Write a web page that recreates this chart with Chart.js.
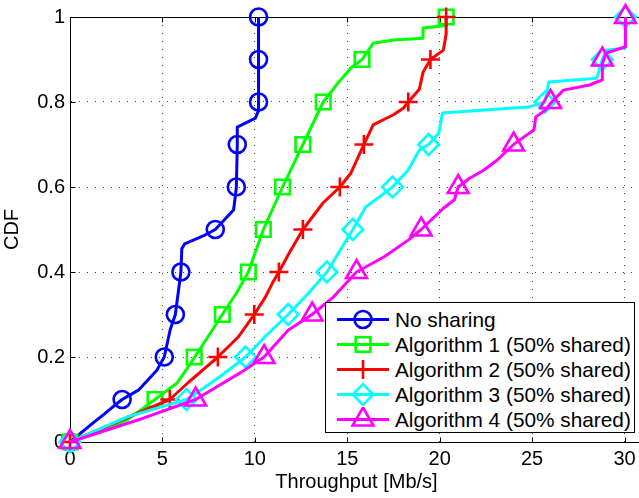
<!DOCTYPE html>
<html>
<head>
<meta charset="utf-8">
<script src="https://cdn.jsdelivr.net/npm/chart.js@4.4.1/dist/chart.umd.min.js"></script>
<style>
  html, body { margin: 0; padding: 0; background: #fff; overflow: hidden; }
  #marco { position: relative; width: 639px; height: 498px; overflow: hidden; }
  #grafico { position: absolute; left: 0; top: 0; }
  #leyenda {
    position: absolute; left: 325px; top: 302px; width: 308px; height: 129px;
    border: 1px solid #000; background: #fff;
    font-family: "Liberation Sans", Arial, sans-serif; font-size: 20.8px; color: #000;
  }
  .fila { position: absolute; left: 0; height: 25px; line-height: 25px; white-space: nowrap; }
  .fila svg { position: absolute; left: 11px; top: 0; }
  .fila span { position: absolute; left: 69px; top: 0; }
</style>
</head>
<body>
<div id="marco">
  <canvas id="grafico" width="660" height="498"></canvas>
  <div id="leyenda"></div>
</div>
<script>
// niveles de la CDF donde van los marcadores
const cdfLevels = [0, 0.1, 0.2, 0.3, 0.4, 0.5, 0.6, 0.7, 0.8, 0.9, 1];
const xTicks = [0, 5, 10, 15, 20, 25, 30];
const yTicks = [0, 0.2, 0.4, 0.6, 0.8, 1];

const seriesNames = ['No sharing', 'Algorithm 1 (50% shared)', 'Algorithm 2 (50% shared)',
  'Algorithm 3 (50% shared)', 'Algorithm 4 (50% shared)'];
const seriesColors = ['#0000ff', '#00ff00', '#ff0000', '#00ffff', '#ff00ff'];
const seriesMarkers = ['circle', 'rect', 'cross', 'rectRot', 'triangle'];

// throughput en cada nivel de cdfLevels
const noSharingMarks = [0, 2.82, 5.1, 5.7, 6.0, 7.86, 9.0, 9.05, 10.2, 10.2, 10.2];
const alg1Marks = [0, 4.6, 6.72, 8.24, 9.65, 10.46, 11.5, 12.6, 13.7, 15.8, 20.35];
const alg2Marks = [0, 5.4, 8.0, 9.97, 11.3, 12.6, 14.6, 15.9, 18.3, 19.5, 20.35];
const alg3Marks = [0, 6.3, 9.5, 11.8, 13.9, 15.3, 17.45, 19.4, 25.7, 28.8, 30.05];
const alg4Marks = [0, 6.8, 10.5, 13.1, 15.5, 19.0, 21.0, 24.0, 26.0, 28.8, 30.05];

// curvas completas (x = throughput, y = CDF)
const noSharingX = [0, 1.25, 1.8, 2.44, 2.82, 3.7, 4.7, 5.1, 5.42, 5.7, 5.85, 6.0, 6.05, 6.2, 7.3, 7.86, 8.85, 8.95, 9.0, 9.05, 9.05, 10.03, 10.2, 10.2];
const noSharingY = [0, 0.045, 0.064, 0.087, 0.1, 0.122, 0.169, 0.2, 0.264, 0.3, 0.35, 0.4, 0.455, 0.466, 0.487, 0.5, 0.546, 0.58, 0.6, 0.7, 0.741, 0.762, 0.78, 1];
const alg1X = [0, 1.5, 3.1, 4.6, 5.8, 6.72, 7.5, 8.24, 9.0, 9.65, 10.46, 11.5, 12.6, 13.7, 14.5, 15.2, 15.8, 16.4, 17.5, 19.1, 19.1, 20.35, 20.35];
const alg1Y = [0, 0.022, 0.052, 0.1, 0.139, 0.198, 0.25, 0.3, 0.35, 0.4, 0.5, 0.6, 0.7, 0.8, 0.845, 0.88, 0.9, 0.938, 0.946, 0.95, 0.974, 0.98, 1];
const alg2X = [0, 2.7, 5.4, 6.4, 7.3, 8.0, 9.1, 9.97, 10.57, 10.95, 11.3, 11.8, 12.6, 13.7, 14.6, 15.2, 15.9, 16.4, 17.5, 18.05, 18.3, 18.9, 19.1, 19.5, 20.2, 20.35, 20.35];
const alg2Y = [0, 0.05, 0.1, 0.14, 0.174, 0.2, 0.247, 0.3, 0.341, 0.374, 0.4, 0.44, 0.5, 0.563, 0.6, 0.633, 0.7, 0.746, 0.77, 0.786, 0.8, 0.83, 0.87, 0.9, 0.922, 0.96, 1];
const alg3X = [0, 3.1, 6.3, 7.3, 8.3, 9.5, 10.6, 11.8, 12.9, 13.9, 14.6, 15.3, 16.0, 17.45, 18.3, 18.9, 19.4, 19.95, 20.15, 23.0, 24.8, 25.7, 25.9, 28.5, 28.8, 29.0, 30.05, 30.05];
const alg3Y = [0, 0.059, 0.1, 0.129, 0.16, 0.2, 0.25, 0.3, 0.35, 0.4, 0.45, 0.5, 0.553, 0.6, 0.64, 0.687, 0.7, 0.727, 0.774, 0.783, 0.788, 0.8, 0.847, 0.856, 0.9, 0.922, 0.927, 1];
const alg4X = [0, 3.96, 6.8, 7.9, 9.3, 10.5, 11.8, 13.1, 14.2, 15.5, 17.0, 18.3, 19.0, 20.2, 20.8, 21.0, 21.6, 22.4, 23.1, 24.0, 24.7, 25.1, 25.2, 25.7, 26.0, 26.7, 28.1, 28.8, 28.8, 29.0, 30.05, 30.05];
const alg4Y = [0, 0.056, 0.1, 0.129, 0.165, 0.2, 0.263, 0.3, 0.339, 0.4, 0.436, 0.475, 0.5, 0.55, 0.57, 0.6, 0.62, 0.64, 0.663, 0.7, 0.722, 0.734, 0.765, 0.78, 0.797, 0.828, 0.84, 0.852, 0.89, 0.915, 0.93, 1];

const curvasX = [noSharingX, alg1X, alg2X, alg3X, alg4X];
const curvasY = [noSharingY, alg1Y, alg2Y, alg3Y, alg4Y];
const marcas = [noSharingMarks, alg1Marks, alg2Marks, alg3Marks, alg4Marks];
const radios = [8.5, 10.3, 9.5, 10.3, 12];

const fuente = { family: '"Liberation Sans", Arial, sans-serif', size: 20 };

const datasets = [];
seriesNames.forEach((nombre, i) => {
  datasets.push({
    label: nombre,
    data: curvasX[i].map((x, k) => ({ x, y: curvasY[i][k] })),
    borderColor: seriesColors[i],
    borderWidth: 3,
    borderJoinStyle: 'round',
    pointRadius: 0,
    tension: 0,
    clip: false,
    order: 11 + (4 - i) * 2
  });
  datasets.push({
    label: nombre + ' marcas',
    data: marcas[i].map((x, k) => ({ x, y: cdfLevels[k] })),
    showLine: false,
    pointStyle: seriesMarkers[i],
    pointRadius: radios[i],
    pointBorderWidth: 2.6,
    pointBorderColor: seriesColors[i],
    pointBackgroundColor: 'rgba(0,0,0,0)',
    clip: false,
    order: 10 + (4 - i) * 2
  });
});

// marco negro y marcas de escala hacia dentro (estilo MATLAB)
const marcoEjes = {
  id: 'marcoEjes',
  beforeDatasetsDraw(chart) {
    const { ctx, chartArea: a, scales: { x, y } } = chart;
    const l = Math.round(a.left) + 0.5, t = Math.round(a.top) + 0.5, b = Math.round(a.bottom) + 0.5, r = Math.round(a.right) + 0.5;
    ctx.save();
    ctx.strokeStyle = '#000';
    ctx.lineWidth = 1;
    ctx.beginPath();
    ctx.moveTo(r, t); ctx.lineTo(l, t); ctx.lineTo(l, b); ctx.lineTo(r, b); ctx.lineTo(r, t);
    xTicks.forEach(v => {
      const px = Math.round(x.getPixelForValue(v)) + 0.5;
      ctx.moveTo(px, b); ctx.lineTo(px, b - 5);
      ctx.moveTo(px, t); ctx.lineTo(px, t + 5);
    });
    yTicks.forEach(v => {
      const py = Math.round(y.getPixelForValue(v)) + 0.5;
      ctx.moveTo(l, py); ctx.lineTo(l + 5, py);
    });
    ctx.stroke();
    ctx.restore();
  }
};

new Chart(document.getElementById('grafico').getContext('2d'), {
  type: 'line',
  data: { datasets },
  options: {
    responsive: false,
    animation: false,
    devicePixelRatio: 1,
    layout: { padding: { left: 0, top: 17, right: 17, bottom: 0 } },
    plugins: { legend: { display: false }, tooltip: { enabled: false } },
    scales: {
      x: {
        type: 'linear', min: 0, max: 31,
        afterBuildTicks: s => { s.ticks = xTicks.map(v => ({ value: v })); },
        afterFit: s => { s.height = 56; },
        grid: { color: '#444', lineWidth: 1, drawTicks: false },
        border: { display: true, color: '#000', width: 1, dash: [1, 7] },
        ticks: { color: '#000', font: fuente, padding: 5, maxRotation: 0, callback: v => String(v) },
        title: { display: true, text: 'Throughput [Mb/s]', color: '#000', font: fuente, padding: { top: 0, bottom: 4 } }
      },
      y: {
        type: 'linear', min: 0, max: 1,
        afterBuildTicks: s => { s.ticks = yTicks.map(v => ({ value: v })); },
        afterFit: s => { s.width = 70; },
        grid: { color: '#444', lineWidth: 1, drawTicks: false },
        border: { display: true, color: '#000', width: 1, dash: [1, 7] },
        ticks: { color: '#000', font: fuente, padding: 5, callback: v => String(v) },
        title: { display: true, text: 'CDF', color: '#000', font: fuente, padding: { top: 0, bottom: 0 } }
      }
    }
  },
  plugins: [marcoEjes]
});

// leyenda dentro del área de trazado
const iconos = {
  circle: c => `<circle cx="26" cy="12.5" r="8.5" fill="none" stroke="${c}" stroke-width="2.6"/>`,
  rect: c => `<rect x="18.7" y="5.2" width="14.6" height="14.6" fill="none" stroke="${c}" stroke-width="2.6"/>`,
  cross: c => `<path d="M26 3V22M16.5 12.5H35.5" stroke="${c}" stroke-width="2.6"/>`,
  rectRot: c => `<path d="M26 2.2L36.3 12.5L26 22.8L15.7 12.5Z" fill="none" stroke="${c}" stroke-width="2.6"/>`,
  triangle: c => `<path d="M26 0.5L36.4 18.5L15.6 18.5Z" fill="none" stroke="${c}" stroke-width="2.6"/>`
};
const leyenda = document.getElementById('leyenda');
seriesNames.forEach((nombre, i) => {
  const fila = document.createElement('div');
  fila.className = 'fila';
  fila.style.top = (3.5 + i * 25) + 'px';
  fila.innerHTML = `<svg width="52" height="25"><line x1="0" y1="12.5" x2="52" y2="12.5" stroke="${seriesColors[i]}" stroke-width="3"/>${iconos[seriesMarkers[i]](seriesColors[i])}</svg><span>${nombre}</span>`;
  leyenda.appendChild(fila);
});
</script>
</body>
</html>
